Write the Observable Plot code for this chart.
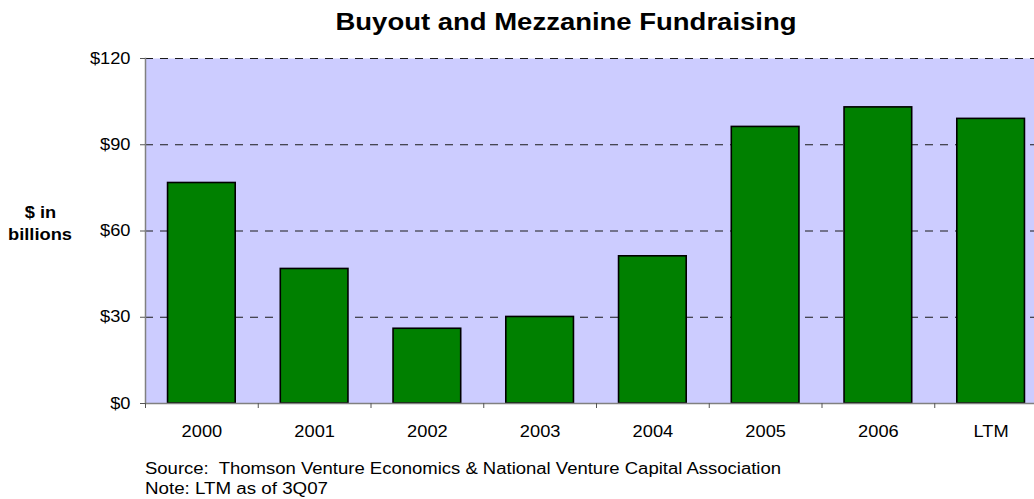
<!DOCTYPE html>
<html>
<head>
<meta charset="utf-8">
<script src="https://cdn.jsdelivr.net/npm/d3@7"></script>
<script src="https://cdn.jsdelivr.net/npm/@observablehq/plot@0.6"></script>
<style>
  html, body { margin: 0; padding: 0; background: #fff; overflow: hidden; width: 1034px; height: 499px; }
  #chart { position: relative; width: 1034px; height: 499px; overflow: hidden; }
  #chart svg { max-width: none !important; width: 1047px !important; height: 499px !important; display: block; }
</style>
</head>
<body>
<div id="chart"></div>
<script>
const categories = ["2000", "2001", "2002", "2003", "2004", "2005", "2006", "LTM"];
const values = [76.7, 46.8, 26.0, 30.1, 51.2, 96.2, 103.0, 99.0];
const yTicks = [0, 30, 60, 90, 120];
const titleText = "Buyout and Mezzanine Fundraising";
const yLabelLines = ["$ in", "billions"];
const sourceText = "Source:  Thomson Venture Economics & National Venture Capital Association";
const noteText = "Note: LTM as of 3Q07";

const data = categories.map((c, i) => ({cat: c, value: values[i]}));

const W = 1047, H = 499, ML = 145, MR = 0, MT = 58, MB = 96;
const halfStep = (W - ML - MR) / categories.length / 2;
const font = "'Liberation Sans', Arial, Helvetica, sans-serif";

const chart = Plot.plot({
  width: W, height: H,
  marginLeft: ML, marginRight: MR, marginTop: MT, marginBottom: MB,
  x: {domain: categories, paddingInner: 0.4, paddingOuter: 0.2, align: 0.5, round: false, label: null},
  y: {domain: [0, 120], ticks: yTicks, label: null},
  style: {fontFamily: font, fontSize: "16px", color: "#000", background: "transparent", overflow: "visible", maxWidth: "none"},
  marks: [
    Plot.frame({fill: "#CCCCFF", stroke: null}),
    Plot.ruleY(yTicks.filter(d => d > 0), {stroke: "#1a1a1a", strokeDasharray: "8,7", strokeWidth: 1}),
    Plot.barY(data, {x: "cat", y: "value", fill: "#008000", stroke: "#000", strokeWidth: 1.6}),
    Plot.ruleY([0], {stroke: "#808080", strokeWidth: 1.5}),
    Plot.frame({anchor: "left", stroke: "#808080", strokeWidth: 1.5}),
    Plot.axisY({ticks: yTicks, tickSize: 5, tickPadding: 10, tickFormat: d => "$" + d, stroke: "#555", fill: "#000", label: null}),
    Plot.axisX({tickSize: 5, dx: -halfStep, text: null, stroke: "#555", label: null}),
    Plot.axisX({tickSize: 0, tickPadding: 22, fill: "#000", label: null})
  ]
});

document.getElementById("chart").appendChild(chart);

const svg = d3.select(chart);
const k = 1.14;

// stretch axis texts horizontally to match the reference's wide rendering
svg.selectAll("text").each(function() {
  const len = this.getComputedTextLength();
  if (len > 0) {
    this.setAttribute("textLength", len * k);
    this.setAttribute("lengthAdjust", "spacingAndGlyphs");
  }
});

function addText(str, x, y, opts) {
  const t = svg.append("text")
    .attr("x", x).attr("y", y)
    .attr("font-family", font)
    .attr("font-size", opts.size)
    .attr("font-weight", opts.weight || "normal")
    .attr("text-anchor", opts.anchor || "start")
    .attr("fill", "#000")
    .text(str);
  const node = t.node();
  const len = opts.length || node.getComputedTextLength() * k;
  t.attr("textLength", len).attr("lengthAdjust", "spacingAndGlyphs");
  return t;
}

addText(titleText, 566, 30, {size: 24, weight: "bold", anchor: "middle", length: 461});
addText(yLabelLines[0], 40.5, 217.5, {size: 16, weight: "bold", anchor: "middle"});
addText(yLabelLines[1], 40, 240, {size: 16, weight: "bold", anchor: "middle", length: 64});
addText(sourceText, 145, 474, {size: 16, length: 636});
addText(noteText, 145, 494, {size: 16, length: 183});
</script>
</body>
</html>
